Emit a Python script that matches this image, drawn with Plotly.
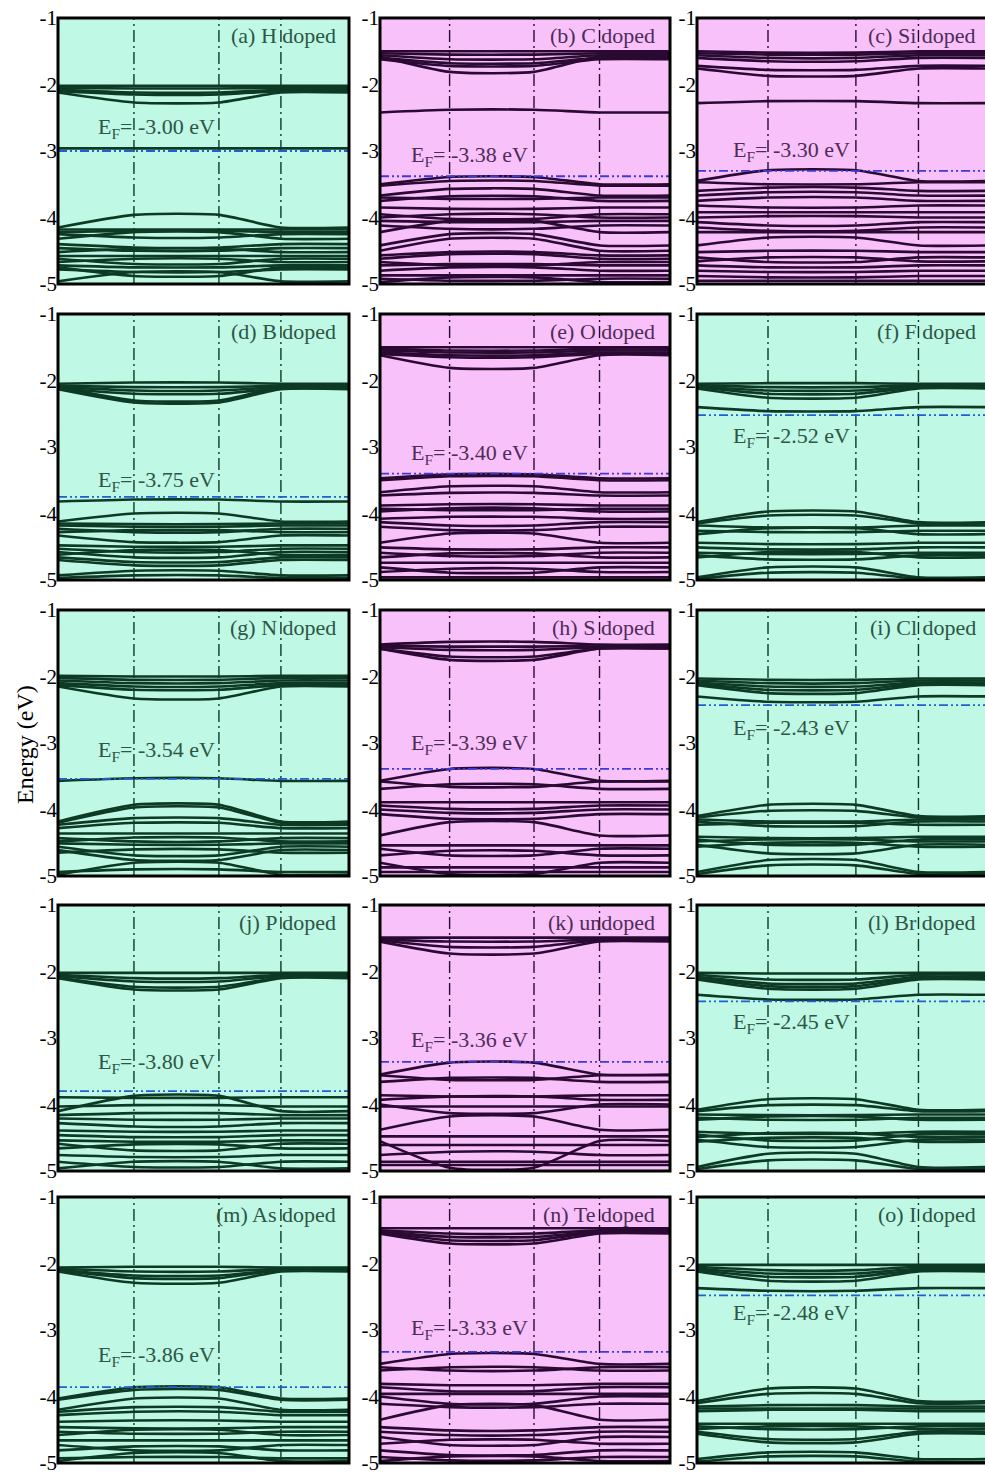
import plotly.graph_objects as go

# ---------------- data ----------------
PANEL_LABELS = ["(a) H doped", "(b) C doped", "(c) Si doped",
                "(d) B doped", "(e) O doped", "(f) F doped",
                "(g) N doped", "(h) S doped", "(i) Cl doped",
                "(j) P doped", "(k) undoped", "(l) Br doped",
                "(m) As doped", "(n) Te doped", "(o) I doped"]
FERMI = [-3.00, -3.38, -3.30, -3.75, -3.40, -2.52, -3.54, -3.39, -2.43,
         -3.80, -3.36, -2.45, -3.86, -3.33, -2.48]
PINK = [False, True, True, False, True, False, False, True, False,
        False, True, False, False, True, False]
Y_TICKS = [-1, -2, -3, -4, -5]
Y_TICK_TEXT = ["-1", "-2", "-3", "-4", "-5"]

# k-path high-symmetry positions (normalised path length) for each column
K_COL = [[0, 0.261, 0.553, 0.766, 1.0],
         [0, 0.240, 0.531, 0.757, 1.0],
         [0, 0.244, 0.546, 0.761, 1.0]]

# bands: (energy at path ends / last segment, energy in middle segment)
BANDS_A = [(-2.02, -2.02), (-2.05, -2.06), (-2.08, -2.12), (-2.10, -2.15), (-2.12, -2.27), (-2.96, -2.96),
           (-4.15, -3.96), (-4.18, -4.18), (-4.22, -4.20), (-4.25, -4.30), (-4.32, -4.22), (-4.40, -4.45),
           (-4.46, -4.50), (-4.52, -4.47), (-4.58, -4.58), (-4.62, -4.70), (-4.67, -4.62), (-4.72, -4.75),
           (-4.78, -4.82), (-4.96, -4.82), (-4.75, -4.88)]
BANDS_B = [(-1.50, -1.50), (-1.53, -1.55), (-1.56, -1.62), (-1.60, -1.68), (-1.62, -1.72), (-1.58, -1.81),
           (-2.42, -2.38),
           (-3.50, -3.39), (-3.52, -3.45), (-3.67, -3.57), (-3.70, -3.72), (-3.75, -3.68), (-3.85, -3.87),
           (-3.95, -4.02), (-4.00, -3.95), (-4.05, -4.07), (-4.12, -4.17), (-4.22, -4.05), (-4.42, -4.25),
           (-4.50, -4.32), (-4.57, -4.52), (-4.62, -4.55), (-4.67, -4.72), (-4.72, -4.70), (-4.80, -4.75),
           (-4.87, -4.87), (-4.92, -4.95), (-4.97, -4.90)]
BANDS_C = [(-1.50, -1.52), (-1.53, -1.55), (-1.56, -1.60), (-1.60, -1.65), (-1.72, -1.78), (-1.76, -1.87),
           (-2.28, -2.25),
           (-3.45, -3.29), (-3.47, -3.50), (-3.60, -3.55), (-3.67, -3.62), (-3.75, -3.70), (-3.82, -3.85),
           (-3.92, -3.92), (-4.00, -3.98), (-4.07, -4.12), (-4.15, -4.20), (-4.22, -4.22), (-4.42, -4.30),
           (-4.52, -4.50), (-4.60, -4.67), (-4.66, -4.60), (-4.72, -4.75), (-4.80, -4.82), (-4.88, -4.90),
           (-4.95, -4.95)]
BANDS_D = [(-2.05, -2.03), (-2.08, -2.10), (-2.10, -2.15), (-2.12, -2.20), (-2.10, -2.30), (-2.13, -2.33),
           (-3.82, -3.79),
           (-4.12, -4.00), (-4.15, -4.16), (-4.18, -4.20), (-4.23, -4.28), (-4.28, -4.25), (-4.33, -4.43),
           (-4.48, -4.50), (-4.53, -4.58), (-4.58, -4.66), (-4.62, -4.55), (-4.66, -4.73), (-4.70, -4.78),
           (-4.93, -4.86), (-4.97, -4.93)]
BANDS_E = [(-1.50, -1.50), (-1.52, -1.55), (-1.55, -1.58), (-1.58, -1.62), (-1.60, -1.65), (-1.62, -1.81),
           (-3.47, -3.41), (-3.50, -3.44), (-3.68, -3.59), (-3.73, -3.69), (-3.88, -3.86), (-3.93, -3.95),
           (-3.97, -3.92), (-4.08, -4.05), (-4.13, -4.18), (-4.20, -4.25), (-4.44, -4.30), (-4.51, -4.54),
           (-4.59, -4.64), (-4.66, -4.60), (-4.74, -4.74), (-4.81, -4.89), (-4.88, -4.83), (-4.96, -4.96)]
BANDS_F = [(-2.05, -2.04), (-2.07, -2.10), (-2.09, -2.15), (-2.10, -2.20), (-2.12, -2.26), (-2.40, -2.46),
           (-4.13, -3.97), (-4.15, -4.03), (-4.18, -4.21), (-4.26, -4.28), (-4.31, -4.22), (-4.44, -4.46),
           (-4.51, -4.54), (-4.59, -4.61), (-4.63, -4.69), (-4.66, -4.58), (-4.96, -4.81), (-4.98, -4.89)]
BANDS_G = [(-1.99, -2.00), (-2.02, -2.05), (-2.06, -2.10), (-2.10, -2.15), (-2.13, -2.20), (-2.15, -2.33),
           (-3.57, -3.53),
           (-4.18, -3.93), (-4.20, -3.97), (-4.23, -4.13), (-4.28, -4.20), (-4.36, -4.36), (-4.43, -4.48),
           (-4.48, -4.42), (-4.51, -4.53), (-4.56, -4.69), (-4.61, -4.76), (-4.65, -4.60), (-4.94, -4.90),
           (-4.98, -4.80)]
BANDS_H = [(-1.52, -1.48), (-1.54, -1.55), (-1.56, -1.60), (-1.58, -1.70), (-1.58, -1.75),
           (-3.57, -3.39), (-3.58, -3.66), (-3.69, -3.62), (-3.89, -3.89), (-3.94, -3.99), (-4.00, -4.05),
           (-4.07, -4.14), (-4.39, -4.19), (-4.54, -4.54), (-4.59, -4.69), (-4.69, -4.62), (-4.87, -4.87),
           (-4.94, -4.94), (-4.80, -4.97)]
BANDS_I = [(-2.03, -2.05), (-2.06, -2.10), (-2.09, -2.15), (-2.11, -2.20), (-2.13, -2.25), (-2.30, -2.38),
           (-4.10, -3.93), (-4.12, -4.02), (-4.15, -4.18), (-4.18, -4.25), (-4.23, -4.20), (-4.41, -4.43),
           (-4.45, -4.53), (-4.48, -4.45), (-4.53, -4.66), (-4.56, -4.50), (-4.94, -4.76), (-4.97, -4.84)]
BANDS_J = [(-2.02, -2.02), (-2.05, -2.10), (-2.07, -2.15), (-2.09, -2.23), (-2.10, -2.27),
           (-3.89, -3.90), (-4.10, -3.87), (-4.03, -4.01), (-4.16, -4.13), (-4.21, -4.23), (-4.28, -4.33),
           (-4.39, -4.41), (-4.46, -4.49), (-4.54, -4.56), (-4.59, -4.69), (-4.66, -4.60), (-4.76, -4.79),
           (-4.86, -4.94), (-4.96, -4.86)]
BANDS_K = [(-1.49, -1.49), (-1.52, -1.55), (-1.53, -1.63), (-1.55, -1.73),
           (-3.55, -3.37), (-3.56, -3.63), (-3.66, -3.60), (-3.86, -3.88), (-3.93, -3.88), (-4.03, -4.03),
           (-4.00, -4.13), (-4.38, -4.18), (-4.48, -4.48), (-4.61, -4.61), (-4.76, -4.71), (-4.86, -4.86),
           (-4.91, -4.91), (-4.55, -4.95)]
BANDS_L = [(-2.02, -2.03), (-2.05, -2.12), (-2.08, -2.18), (-2.10, -2.22), (-2.12, -2.26), (-2.35, -2.42),
           (-4.08, -3.92), (-4.10, -4.01), (-4.15, -4.16), (-4.20, -4.23), (-4.23, -4.18), (-4.41, -4.44),
           (-4.45, -4.54), (-4.49, -4.43), (-4.53, -4.64), (-4.56, -4.50), (-4.94, -4.74), (-4.97, -4.84)]
BANDS_M = [(-2.06, -2.05), (-2.08, -2.12), (-2.10, -2.18), (-2.10, -2.22), (-2.12, -2.29),
           (-4.03, -3.86), (-4.05, -3.90), (-4.20, -4.03), (-4.23, -4.16), (-4.28, -4.23), (-4.38, -4.36),
           (-4.46, -4.48), (-4.53, -4.56), (-4.58, -4.50), (-4.66, -4.66), (-4.73, -4.81), (-4.81, -4.75),
           (-4.93, -4.91), (-4.97, -4.85)]
BANDS_N = [(-1.47, -1.47), (-1.50, -1.55), (-1.52, -1.60), (-1.53, -1.65), (-1.55, -1.70),
           (-3.51, -3.36), (-3.56, -3.61), (-3.61, -3.56), (-3.81, -3.83), (-3.86, -3.92), (-3.96, -3.96),
           (-4.00, -4.11), (-4.11, -4.16), (-4.35, -4.13), (-4.46, -4.51), (-4.53, -4.58), (-4.61, -4.73),
           (-4.71, -4.65), (-4.81, -4.88), (-4.91, -4.96), (-4.97, -4.90)]
BANDS_O = [(-2.02, -2.02), (-2.05, -2.10), (-2.08, -2.15), (-2.10, -2.20), (-2.12, -2.26), (-2.37, -2.41),
           (-4.07, -3.88), (-4.10, -3.96), (-4.15, -4.13), (-4.18, -4.18), (-4.22, -4.20), (-4.41, -4.41),
           (-4.45, -4.49), (-4.49, -4.45), (-4.53, -4.64), (-4.56, -4.69), (-4.94, -4.84), (-4.98, -4.90)]
ALL_BANDS = [BANDS_A, BANDS_B, BANDS_C, BANDS_D, BANDS_E, BANDS_F, BANDS_G, BANDS_H,
             BANDS_I, BANDS_J, BANDS_K, BANDS_L, BANDS_M, BANDS_N, BANDS_O]

# ---------------- layout / style ----------------
W, H = 985, 1477
COL_PX = [(58, 349), (380, 670), (697, 985)]
COL_FULL_W = [291, 290, 291]
ROW_PX = [(18, 284), (314, 580), (610, 876), (905, 1171), (1197, 1463)]
EF_LABEL_Y = [-2.65, -3.07, -3.00, -3.51, -3.10, -2.85, -3.12, -3.02, -2.79,
              -3.38, -3.05, -2.77, -3.39, -2.98, -2.76]
EF_LABEL_X = [0.34, 0.31, 0.325]
TITLE_X = [0.962, 0.955, 0.965]

GREEN_BG, PINK_BG = "#bff8e4", "#f9c1f9"
GREEN_LN, PINK_LN = "#0d3a25", "#2a0a33"
GREEN_TX, PINK_TX = "#2c5646", "#4e2c5a"
SERIF = "Liberation Serif"

fig = go.Figure()
layout = dict(width=W, height=H, margin=dict(l=0, r=0, t=0, b=0, pad=0, autoexpand=False),
              paper_bgcolor="white", plot_bgcolor="rgba(0,0,0,0)",
              showlegend=False, shapes=[], annotations=[])

for i in range(15):
    r, c = divmod(i, 3)
    n = i + 1
    xs = "x" if n == 1 else f"x{n}"
    ys = "y" if n == 1 else f"y{n}"
    x0p, x1p = COL_PX[c]
    y0p, y1p = ROW_PX[r]
    K = K_COL[c]
    vis = (x1p - x0p) / COL_FULL_W[c]
    pink = PINK[i]
    lc = PINK_LN if pink else GREEN_LN
    tc = PINK_TX if pink else GREEN_TX

    layout[f"xaxis{n}"] = dict(domain=[x0p / W, x1p / W], range=[0, vis], anchor=ys,
                               showticklabels=False, showgrid=False, zeroline=False,
                               showline=False, ticks="", automargin=False)
    layout[f"yaxis{n}"] = dict(domain=[1 - y1p / H, 1 - y0p / H], range=[-5, -1], anchor=xs,
                               tickvals=Y_TICKS, ticktext=Y_TICK_TEXT, ticks="",
                               ticklabeloverflow="allow",
                               showgrid=False, zeroline=False, showline=False, automargin=False,
                               tickfont=dict(family=SERIF, size=21, color="black"))

    # background
    layout["shapes"].append(dict(type="rect", xref=f"{xs} domain", yref=f"{ys} domain",
                                 x0=0, x1=1, y0=0, y1=1, layer="below",
                                 fillcolor=PINK_BG if pink else GREEN_BG, line=dict(width=0)))
    # k-point vertical lines
    for kx in K[1:4]:
        layout["shapes"].append(dict(type="line", xref=xs, yref=f"{ys} domain",
                                     x0=kx, x1=kx, y0=0, y1=1, layer="below",
                                     line=dict(color=lc, width=1.4, dash="12px,4px,2px,4px")))
    # bands
    bx, by = [], []
    for e, m in ALL_BANDS[i]:
        bx += K + [None]
        by += [e, m, m, e, e, None]
    fig.add_trace(go.Scatter(x=bx, y=by, xaxis=xs, yaxis=ys, mode="lines",
                             line=dict(color=lc, width=2.6, shape="spline", smoothing=0.6),
                             hoverinfo="skip", connectgaps=False))
    # Fermi level
    layout["shapes"].append(dict(type="line", xref=f"{xs} domain", yref=ys,
                                 x0=0, x1=1, y0=FERMI[i], y1=FERMI[i], layer="above",
                                 line=dict(color="#3a3ae0" if pink else "#1f5fd8", width=1.8,
                                           dash="9px,3px,2px,3px,2px,3px")))
    # frame
    layout["shapes"].append(dict(type="rect", xref=f"{xs} domain", yref=f"{ys} domain",
                                 x0=0, x1=1 / vis, y0=0, y1=1, layer="above",
                                 line=dict(color="black", width=3), fillcolor="rgba(0,0,0,0)"))
    # labels
    layout["annotations"].append(dict(xref=f"{xs} domain", yref=ys, x=TITLE_X[c] / vis, y=-1.26,
                                      xanchor="right", yanchor="middle", showarrow=False,
                                      text=PANEL_LABELS[i],
                                      font=dict(family=SERIF, size=22, color=tc)))
    layout["annotations"].append(dict(xref=f"{xs} domain", yref=ys, x=EF_LABEL_X[c] / vis,
                                      y=EF_LABEL_Y[i], xanchor="center", yanchor="middle",
                                      showarrow=False,
                                      text=f"E<sub>F</sub>= {FERMI[i]:.2f} eV",
                                      font=dict(family=SERIF, size=22, color=tc)))

layout["annotations"].append(dict(xref="paper", yref="paper", x=25 / W, y=1 - 745 / H,
                                  text="Energy (eV)", textangle=-90, showarrow=False,
                                  xanchor="center", yanchor="middle",
                                  font=dict(family=SERIF, size=24, color="black")))

fig.update_layout(**layout)
fig.write_html(
    "out.html",
    config={"displayModeBar": False},
    post_script=("var gd=document.getElementById('{plot_id}');"
                 "gd.style.position='fixed';gd.style.left='0px';gd.style.top='0px';"
                 "document.body.style.margin='0';"
                 "document.documentElement.style.overflow='hidden';"),
)
